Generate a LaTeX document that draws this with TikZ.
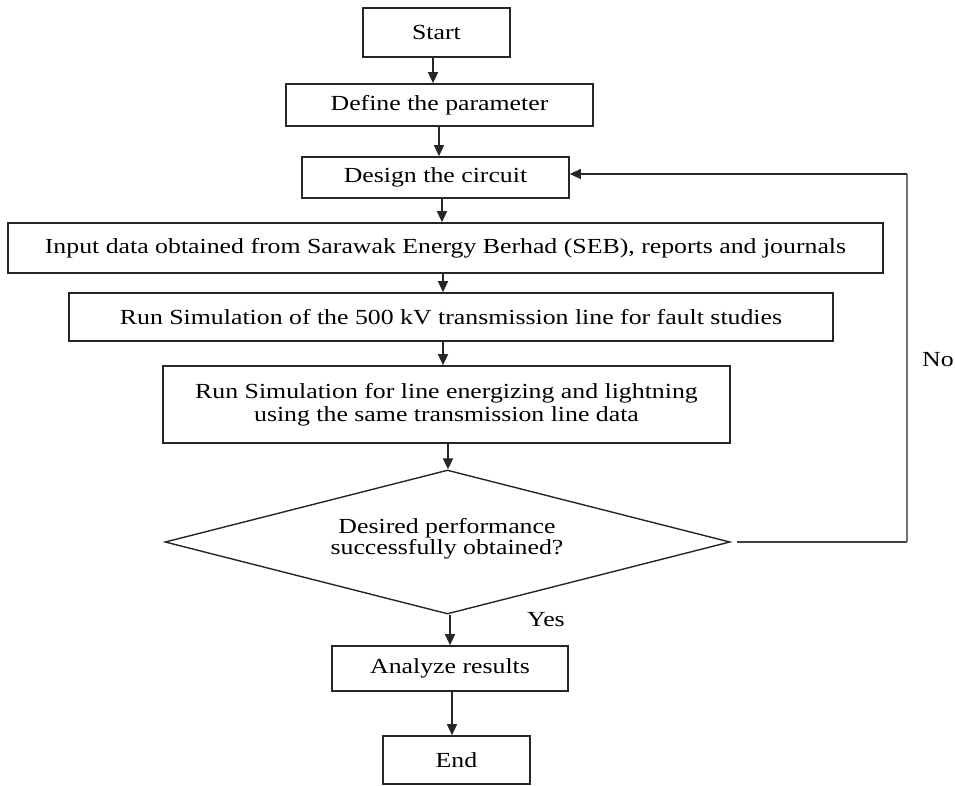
\documentclass[tikz,border=0pt]{standalone}
\usepackage{fontspec}
\setmainfont[FakeStretch=1.2]{Liberation Serif}
\usetikzlibrary{shapes.geometric,arrows.meta}
\begin{document}
\begin{tikzpicture}[x=1pt,y=-1pt,
  every node/.style={font=\fontsize{21.5}{23}\selectfont},
  box/.style={draw=black!85,line width=1.7pt,rectangle,inner sep=0pt,align=center},
  dec/.style={draw=black!85,line width=1.4pt,diamond,aspect=3.9,inner sep=0pt,align=center,
    minimum width=565pt,minimum height=144pt},
  arr/.style={draw=black!85,line width=1.5pt,-{Triangle[length=11pt,width=10pt]}},
  fb/.style={draw=black!75,line width=1.5pt}]
\useasboundingbox (0,0) rectangle (955,785);
\node[box,minimum width=147pt,minimum height=49pt] (start) at (436.5,32.5) {Start};
\node[box,minimum width=307pt,minimum height=42pt] (define) at (439.5,105) {Define the parameter};
\node[box,minimum width=267pt,minimum height=41pt] (design) at (435.5,177.5) {Design the circuit};
\node[box,minimum width=875pt,minimum height=50pt] (input) at (445.5,248) {Input data obtained from Sarawak Energy Berhad (SEB), reports and journals};
\node[box,minimum width=764pt,minimum height=48pt] (run) at (451,317) {Run Simulation of the 500 kV transmission line for fault studies};
\node[box,minimum width=567pt,minimum height=77pt] (energ) at (446.5,404.5) {Run Simulation for line energizing and lightning\\using the same transmission line data};
\node[dec] (dia) at (447.5,542) {};
\node[font=\fontsize{21.5}{21}\selectfont,align=center] (diatext) at (447,539) {Desired performance\\successfully obtained?};
\node[box,minimum width=236pt,minimum height=45pt] (anal) at (450,668.5) {Analyze results};
\node[box,minimum width=147pt,minimum height=48pt] (endn) at (456.5,760) {End};
\node[anchor=center] (yes) at (546,620) {Yes};
\node[anchor=center] (no) at (938,360) {No};
\draw[arr] (start.south -| 433,0) -- (define.north -| 433,0);
\draw[arr] (define.south -| 439,0) -- (design.north -| 439,0);
\draw[arr] (design.south -| 442,0) -- (input.north -| 442,0);
\draw[arr] (input.south -| 443,0) -- (run.north -| 443,0);
\draw[arr] (run.south -| 443,0) -- (energ.north -| 443,0);
\draw[arr] (energ.south -| 448,0) -- (dia.north -| 448,0);
\draw[arr] (dia.south -| 450,0) -- (anal.north -| 450,0);
\draw[arr] (anal.south -| 452,0) -- (endn.north -| 452,0);
\coordinate (fbr) at (907,542);
\coordinate (fbt) at (907,174);
\draw[fb] ([xshift=6pt]dia.east) -- (fbr);
\draw[draw=black!55,line width=2.6pt] (fbr) -- (fbt);
\draw[arr] (fbt) -- (design.east |- fbt);
\end{tikzpicture}
\end{document}
